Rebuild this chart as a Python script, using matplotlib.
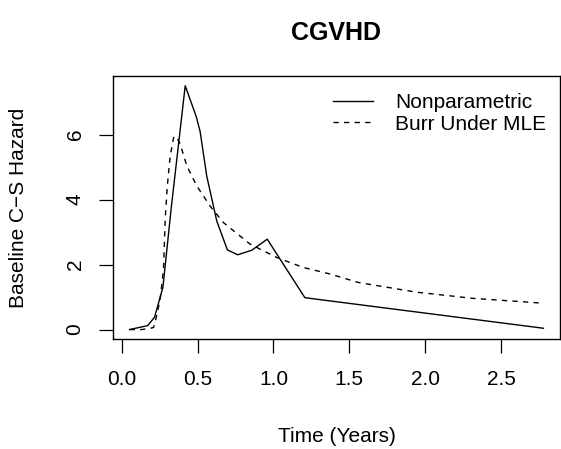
import matplotlib
matplotlib.use('Agg')
import matplotlib.pyplot as plt

# Nonparametric baseline hazard (solid)
np_time = [0.051, 0.17, 0.216, 0.271, 0.326, 0.418, 0.49, 0.516, 0.56, 0.626,
           0.696, 0.764, 0.857, 0.959, 1.207, 2.78]
np_hazard = [0.0, 0.12, 0.38, 1.30, 3.75, 7.50, 6.56, 6.10, 4.72, 3.34,
             2.45, 2.30, 2.44, 2.78, 0.98, 0.04]

# Burr under MLE (dashed)
burr_time = [0.051, 0.133, 0.199, 0.21, 0.23, 0.253, 0.275, 0.286, 0.30, 0.319,
             0.341, 0.359, 0.385, 0.429, 0.494, 0.582, 0.67, 0.845, 1.02, 1.196,
             1.372, 1.558, 1.942, 2.315, 2.69, 2.775]
burr_hazard = [0.0, 0.0, 0.05, 0.07, 0.43, 0.94, 1.86, 3.40, 4.42, 5.34,
               5.90, 5.95, 5.70, 5.03, 4.42, 3.80, 3.29, 2.63, 2.22, 1.91,
               1.71, 1.45, 1.15, 0.96, 0.84, 0.81]

xticks = [0.0, 0.5, 1.0, 1.5, 2.0, 2.5]
xtick_labels = ["0.0", "0.5", "1.0", "1.5", "2.0", "2.5"]
yticks = [0, 2, 4, 6]
ytick_labels = ["0", "2", "4", "6"]

title = "CGVHD"
xlabel = "Time (Years)"
ylabel = "Baseline C\u2212S Hazard"
legend_labels = ["Nonparametric", "Burr Under MLE"]

plt.rcParams['font.family'] = ['Liberation Sans', 'DejaVu Sans']
FS = 15

W, H = 561, 449
fig = plt.figure(figsize=(W / 100, H / 100), dpi=100)
L, R, T, B = 113, 560, 76, 339.3
ax = fig.add_axes([L / W, 1 - B / H, (R - L) / W, (B - T) / H])

ax.plot(np_time, np_hazard, color='black', lw=1.0, linestyle='-',
        label=legend_labels[0])
ax.plot(burr_time, burr_hazard, color='black', lw=1.0,
        linestyle=(0, (3.8, 3.8)), label=legend_labels[1])

xmin, xmax = min(np_time + burr_time), max(np_time + burr_time)
ymin, ymax = 0.0, max(np_hazard + burr_hazard)
dx, dy = 0.04 * (xmax - xmin), 0.04 * (ymax - ymin)
ax.set_xlim(xmin - dx, xmax + dx)
ax.set_ylim(ymin - dy, ymax + dy)

ax.set_xticks(xticks)
ax.set_xticklabels(xtick_labels)
ax.set_yticks(yticks)
ax.set_yticklabels(ytick_labels, rotation=90, va='center')
ax.tick_params(axis='both', direction='out', length=10, width=0.9,
               labelsize=FS, colors='black')
ax.tick_params(axis='x', pad=12)
ax.tick_params(axis='y', pad=10.5)
for s in ax.spines.values():
    s.set_linewidth(1.0)
    s.set_color('black')

ax.set_xlabel(xlabel, fontsize=FS, va='center')
ax.xaxis.set_label_coords(0.5, -(436 - B) / (B - T))
ax.set_ylabel(ylabel, fontsize=FS, va='center')
ax.yaxis.set_label_coords(-(L - 19) / (R - L), 0.5)

ax.set_title(title, fontsize=FS * 1.2, fontweight='bold', va='center',
             y=1 + (T - 33) / (B - T), pad=0)

ax.legend(loc='upper left', bbox_to_anchor=((333 - L) / (R - L), (B - 93) / (B - T)),
          frameon=False, fontsize=FS, handlelength=1.92, handletextpad=1.06,
          labelspacing=0.13, borderpad=0, borderaxespad=0)

fig.savefig('out.png', dpi=100)
